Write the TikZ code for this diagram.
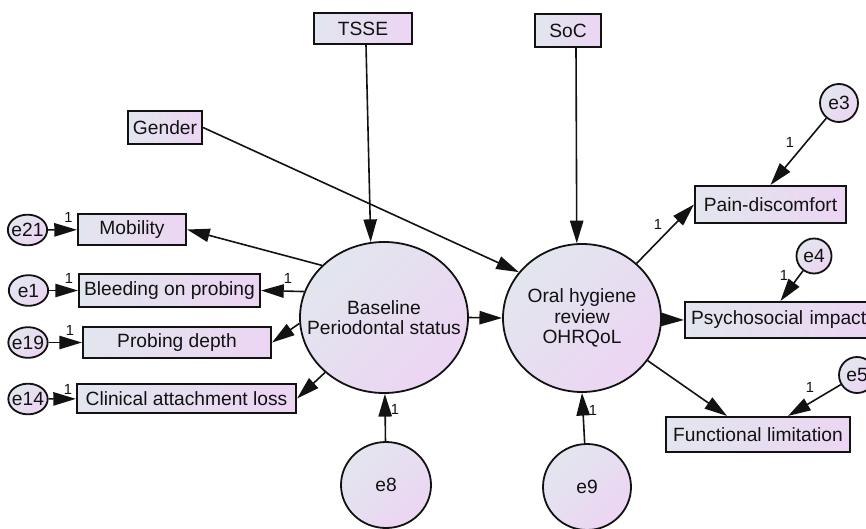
\documentclass[tikz,border=0pt]{standalone}
\usepackage{fontspec}
\setmainfont{Liberation Sans}
\usetikzlibrary{arrows.meta,shapes.geometric}
\definecolor{cA}{RGB}{226,230,238}
\definecolor{cB}{RGB}{236,213,243}
\definecolor{ink}{RGB}{18,18,18}
\tikzset{
  txt/.style={font=\fontsize{14.4}{16.5}\selectfont, text=ink},
  obs/.style={txt, draw=ink, line width=1.6pt, left color=cA, right color=cB, inner sep=0pt},
  lat/.style={draw=ink, line width=1.35pt, ellipse, top color=cA, bottom color=cB, shading angle=45, inner sep=0pt},
  lattxt/.style={txt, align=center, inner sep=0pt},
  conn/.style={draw=ink, line width=1.2pt, -{Triangle[length=17pt,width=10pt]}},
  one/.style={font=\fontsize{11}{12}\selectfont, text=ink, inner sep=0pt}
}
\begin{document}
\begin{tikzpicture}[x=0.75pt,y=-0.75pt]
\useasboundingbox (0,0) rectangle (866,528);
\clip (0,0) rectangle (866,528);
\fill[white] (0,0) rectangle (866,528);

% observed variables
\node[obs, minimum width=73.5pt, minimum height=23.25pt] (tsse) at (363,28.5) {TSSE};
\node[obs, minimum width=49.5pt, minimum height=24.75pt] (soc) at (568,30.5) {SoC};
\node[obs, minimum width=55.5pt, minimum height=24.75pt] (gender) at (165,127.5) {Gender};
\node[obs, minimum width=81pt, minimum height=23.25pt] (mob) at (132,229.5) {Mobility};
\node[obs, minimum width=135.75pt, minimum height=24.75pt] (bop) at (169.5,290.5) {Bleeding on probing};
\node[obs, minimum width=141pt, minimum height=23.25pt] (pd) at (177,342.5) {Probing depth};
\node[obs, minimum width=164.25pt, minimum height=21.75pt] (cal) at (186.5,398.5) {Clinical attachment loss};
\node[obs, minimum width=113.25pt, minimum height=27.75pt] (pain) at (770.5,204.5) {Pain-discomfort};
\node[obs, minimum width=143.25pt, minimum height=27pt, text width=139pt, align=left] (psy) at (780.5,320) {\hspace*{2.5pt}Psychosocial impact};
\node[obs, minimum width=138pt, minimum height=26.25pt] (func) at (758,434.5) {Functional limitation};

% latent variables
\node[lat, minimum width=126pt, minimum height=113.25pt] (base) at (384,317.5) {};
\node[lattxt] (baset) at (base.center) {Baseline\\[-1pt]Periodontal status};
\node[lat, minimum width=118.5pt, minimum height=111pt] (ohr) at (582,318) {};
\node[lattxt] (ohrt) at (ohr.center) {Oral hygiene\\[-1pt]review\\[-1pt]OHRQoL};

% error terms
\newcommand{\errnode}[5]{%
  \node[lat, minimum width=#3, minimum height=#4] (#1) at #2 {};
  \node[lattxt] (#1t) at (#1.center) {#5};}
\errnode{e8}{(386,485)}{67.5pt}{64.5pt}{e8}
\errnode{e9}{(587,487)}{66pt}{64.5pt}{e9}
\errnode{e21}{(27.5,230)}{29.5pt}{23pt}{e21}
\errnode{e1}{(28.5,290.5)}{29.5pt}{23pt}{e1}
\errnode{e19}{(28,342.5)}{29.5pt}{23pt}{e19}
\errnode{e14}{(28,399)}{29.5pt}{23pt}{e14}
\errnode{e3}{(839,103)}{28.5pt}{28.5pt}{e3}
\errnode{e4}{(814,256)}{26.25pt}{26.25pt}{e4}
\errnode{e5}{(857,375)}{27pt}{27pt}{e5}

% paths
\draw[conn] ([xshift=2.25pt]tsse.south) -- (base.100);
\draw[conn] ([xshift=6pt]soc.south) -- (ohr.94);
\draw[conn] (gender.east) -- (ohr.144);
\draw[conn] (base.east) -- (ohr.west);
\draw[conn] (base.140) -- (mob.east);
\draw[conn] (base.162) -- (bop.east);
\draw[conn] (base.184) -- (pd.east);
\draw[conn] (base.223) -- (cal.east);
\draw[conn] (ohr.45) -- (pain.west);
\draw[conn] (ohr.-1) -- (psy.west);
\draw[conn] (ohr.-33) -- ([xshift=-23.25pt]func.north);
\draw[conn] (e8) -- (base);
\draw[conn] (e9) -- (ohr.south);
\draw[conn] (e21) -- (mob);
\draw[conn] (e1) -- (bop);
\draw[conn] (e19) -- (pd);
\draw[conn] (e14) -- (cal);
\draw[conn] (e3) -- (pain.north);
\draw[conn] (e4) -- (psy.north);
\draw[conn] (e5) -- ([xshift=22.5pt]func.north);

% regression weight labels
\node[one] (l21) at (68.5,217.5) {1};
\node[one] (l1) at (69,278) {1};
\node[one] (l19) at (70,330) {1};
\node[one] (l14) at (68,389) {1};
\node[one] (lb) at (288,278) {1};
\node[one] (l8) at (395,409) {1};
\node[one] (l9) at (593,410) {1};
\node[one] (lp) at (658,224) {1};
\node[one] (l3) at (790,142) {1};
\node[one] (l4) at (784,275) {1};
\node[one] (l5) at (810,387) {1};
\end{tikzpicture}
\end{document}
